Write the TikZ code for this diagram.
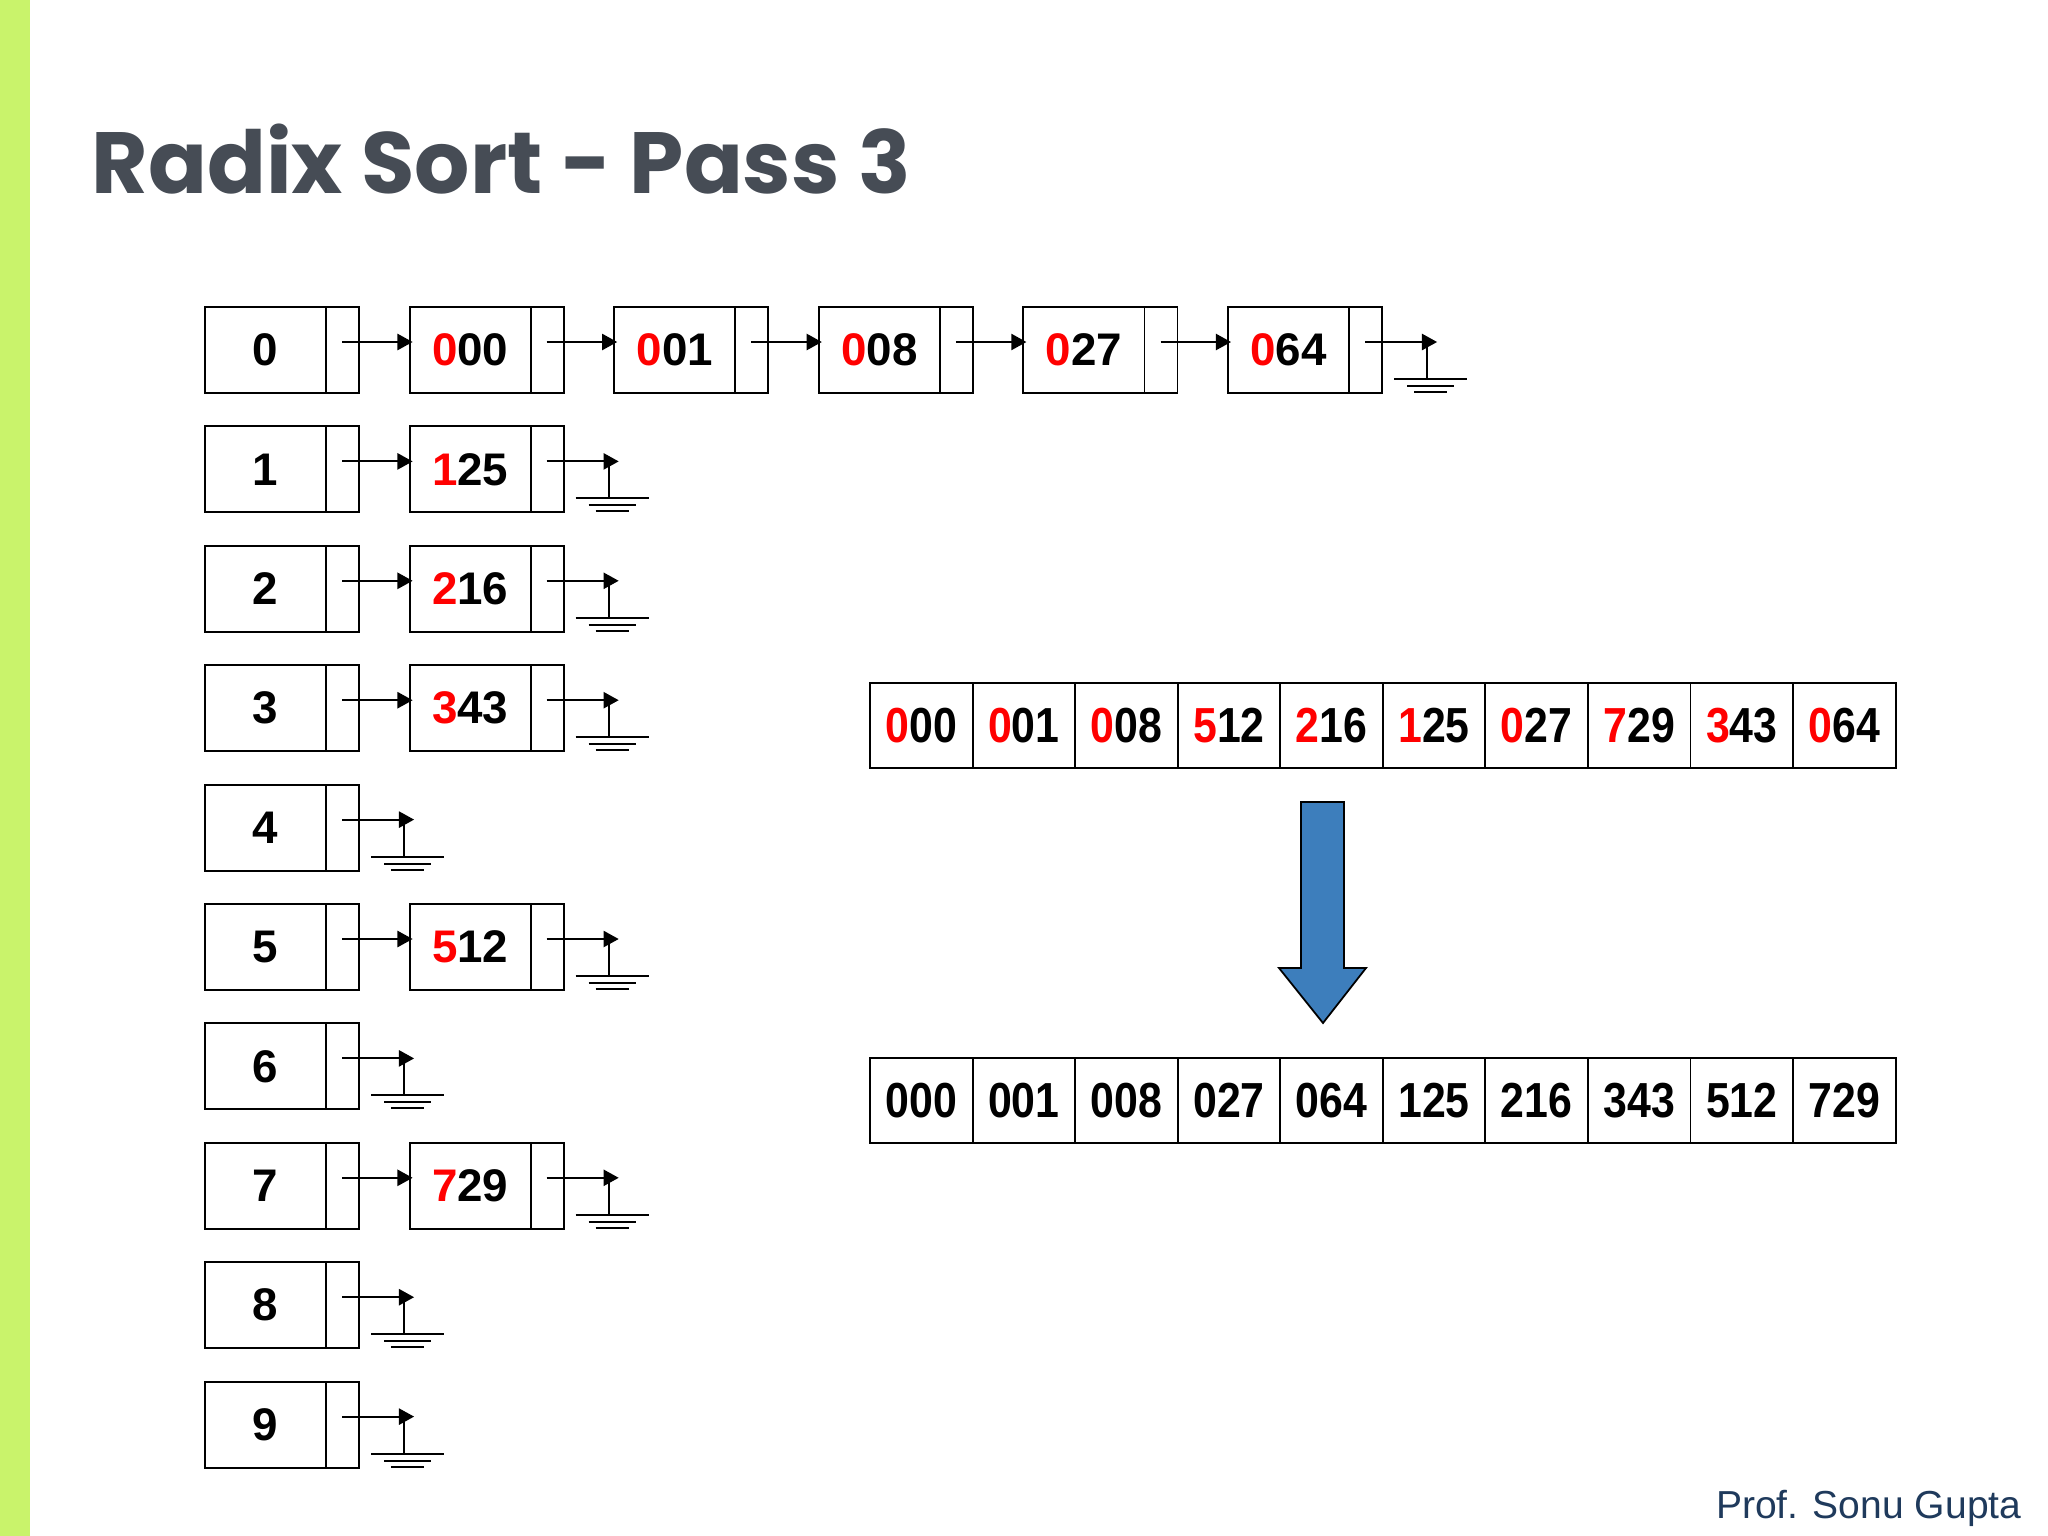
\documentclass[tikz,border=0pt]{standalone}
\usepackage{fontspec}
\usepackage{graphicx}
\setmainfont{Liberation Sans}
\newfontfamily\titlefont{Poppins}
\usetikzlibrary{arrows.meta,calc}
\definecolor{titlegray}{HTML}{464C55}
\definecolor{barlime}{HTML}{C9F36B}
\definecolor{footblue}{HTML}{1F3A5C}
\definecolor{arrowblue}{HTML}{3D7EBC}
\definecolor{digred}{HTML}{FF0000}
\tikzset{
  mainc/.style={draw, line width=0.55pt, minimum width=1.21cm, minimum height=0.86cm, inner sep=0pt, outer sep=0pt, anchor=north west, font=\fontsize{13}{13}\selectfont\bfseries},
  ptrc/.style={draw, line width=0.55pt, minimum width=0.33cm, minimum height=0.86cm, inner sep=0pt, outer sep=0pt, anchor=north west},
  arrc/.style={draw, line width=0.55pt, minimum width=1.025cm, minimum height=0.85cm, inner sep=0pt, outer sep=0pt, anchor=north west, font=\fontsize{14}{14}\selectfont\bfseries},
  link/.style={line width=0.55pt, -{Triangle[length=4.3pt,width=4.6pt]}},
  wire/.style={line width=0.55pt},
}
\newcommand\bkt[2]{%
  \node[mainc] (b#1) at (205,#2) {#1};
  \node[ptrc] (b#1p) at (b#1.north east) {};
}
\newcommand\lnode[5]{%
  \node[mainc] (#1) at (#2,#3) {\textcolor{digred}{#4}#5};
  \node[ptrc] (#1p) at (#1.north east) {};
}
\newcommand\linkto[2]{%
  \draw[link] ($(#1p.north east)+(-17,35)$) -- ($(#2.north west)+(3,35)$);
}
\newcommand\grnd[1]{%
  \coordinate (#1g) at ($(#1p.north east)+(45,72)$);
  \draw[link] ($(#1p.north east)+(-17,35)$) -- ($(#1p.north east)+(55,35)$);
  \draw[wire] ($(#1p.north east)+(45,35)$) -- (#1g);
  \draw[wire] ($(#1g)+(-33,0)$) -- ($(#1g)+(40,0)$);
  \draw[wire] ($(#1g)+(-20,7)$) -- ($(#1g)+(27,7)$);
  \draw[wire] ($(#1g)+(-13,13)$) -- ($(#1g)+(20,13)$);
}
\newcommand\rd[2]{\scalebox{0.87}[1]{\textcolor{digred}{#1}#2}}
\newcommand\bk[1]{\scalebox{0.87}[1]{#1}}
\begin{document}
\begin{tikzpicture}[x=0.01cm,y=-0.01cm]
\useasboundingbox (0,0) rectangle (2048,1536);
\fill[white] (0,0) rectangle (2048,1536);
\fill[barlime] (0,0) rectangle (30,1536);
\node[anchor=base west, inner sep=0pt, text=titlegray, font=\titlefont\bfseries\fontsize{24.7}{24.7}\selectfont] (title) at (91,193) {Radix Sort - Pass 3};
% buckets
\bkt{0}{307}
\bkt{1}{426.4}
\bkt{2}{545.8}
\bkt{3}{665.2}
\bkt{4}{784.6}
\bkt{5}{904}
\bkt{6}{1023.4}
\bkt{7}{1142.8}
\bkt{8}{1262.2}
\bkt{9}{1381.6}
% bucket 0 list
\lnode{n000}{409.6}{307}{0}{00}
\lnode{n001}{614.2}{307}{0}{01}
\lnode{n008}{818.8}{307}{0}{08}
\lnode{n027}{1023.4}{307}{0}{27}
\lnode{n064}{1228}{307}{0}{64}
\linkto{b0}{n000}
\linkto{n000}{n001}
\linkto{n001}{n008}
\linkto{n008}{n027}
\linkto{n027}{n064}
\grnd{n064}
% bucket 1
\lnode{n125}{409.6}{426.4}{1}{25}
\linkto{b1}{n125}
\grnd{n125}
% bucket 2
\lnode{n216}{409.6}{545.8}{2}{16}
\linkto{b2}{n216}
\grnd{n216}
% bucket 3
\lnode{n343}{409.6}{665.2}{3}{43}
\linkto{b3}{n343}
\grnd{n343}
% bucket 4
\grnd{b4}
% bucket 5
\lnode{n512}{409.6}{904}{5}{12}
\linkto{b5}{n512}
\grnd{n512}
% bucket 6
\grnd{b6}
% bucket 7
\lnode{n729}{409.6}{1142.8}{7}{29}
\linkto{b7}{n729}
\grnd{n729}
% bucket 8, 9
\grnd{b8}
\grnd{b9}
% input array
\node[arrc] (a0) at (870,683) {\rd{0}{00}};
\node[arrc] (a1) at (a0.north east) {\rd{0}{01}};
\node[arrc] (a2) at (a1.north east) {\rd{0}{08}};
\node[arrc] (a3) at (a2.north east) {\rd{5}{12}};
\node[arrc] (a4) at (a3.north east) {\rd{2}{16}};
\node[arrc] (a5) at (a4.north east) {\rd{1}{25}};
\node[arrc] (a6) at (a5.north east) {\rd{0}{27}};
\node[arrc] (a7) at (a6.north east) {\rd{7}{29}};
\node[arrc] (a8) at (a7.north east) {\rd{3}{43}};
\node[arrc] (a9) at (a8.north east) {\rd{0}{64}};
% sorted array
\node[arrc] (s0) at (870,1058) {\bk{000}};
\node[arrc] (s1) at (s0.north east) {\bk{001}};
\node[arrc] (s2) at (s1.north east) {\bk{008}};
\node[arrc] (s3) at (s2.north east) {\bk{027}};
\node[arrc] (s4) at (s3.north east) {\bk{064}};
\node[arrc] (s5) at (s4.north east) {\bk{125}};
\node[arrc] (s6) at (s5.north east) {\bk{216}};
\node[arrc] (s7) at (s6.north east) {\bk{343}};
\node[arrc] (s8) at (s7.north east) {\bk{512}};
\node[arrc] (s9) at (s8.north east) {\bk{729}};
% big arrow
\draw[fill=arrowblue, line width=0.5pt, line join=miter] (1301,802) -- (1344,802) -- (1344,968) -- (1366,968) -- (1323,1023) -- (1279,968) -- (1301,968) -- cycle;
% footer
\node[anchor=base east, inner sep=0pt, text=footblue, font=\fontsize{11.1}{11.1}\selectfont] (foot) at (2022,1518) {Prof. Sonu Gupta};
\end{tikzpicture}
\end{document}
